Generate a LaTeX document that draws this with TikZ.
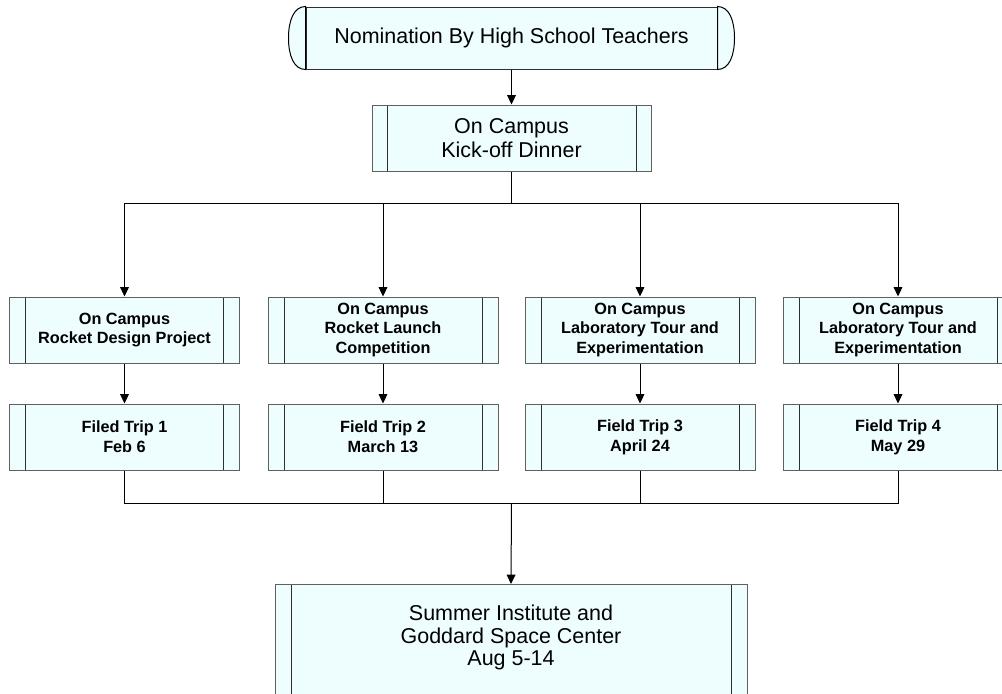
\documentclass[tikz,border=0pt]{standalone}
\usepackage{fontspec}
\setmainfont{Liberation Sans}
\usetikzlibrary{arrows.meta}
\definecolor{boxfill}{HTML}{EEFEFF}
\definecolor{bordergray}{HTML}{606060}
\definecolor{innergray}{HTML}{303030}
\tikzset{
  procbox/.style={rectangle, draw=bordergray, fill=boxfill, line width=0.75pt, inner sep=0pt, align=center,
    path picture={
      \draw[innergray, line width=0.75pt] ([xshift=#1]path picture bounding box.north west) -- ([xshift=#1]path picture bounding box.south west);
      \draw[innergray, line width=0.75pt] ([xshift=-#1]path picture bounding box.north east) -- ([xshift=-#1]path picture bounding box.south east);
    }},
  procbox/.default=12pt,
  bigfont/.style={font=\fontsize{16.1}{18}\selectfont},
  smallbold/.style={font=\fontsize{12.2}{14.8}\selectfont\bfseries},
  rowbox/.style={procbox, smallbold, minimum width=172.5pt, minimum height=49.5pt},
  conn/.style={draw=black, line width=0.75pt},
  arr/.style={conn, -{Triangle[width=6.5pt,length=7pt]}},
}
\begin{document}
\begin{tikzpicture}[x=0.75pt, y=-0.75pt]
\clip (0,0) rectangle (1002,693);
\fill[white] (0,0) rectangle (1002,693);

% top terminal
\node[rectangle, draw=innergray, fill=boxfill, line width=0.75pt, bigfont, minimum width=308.25pt, minimum height=46.5pt, inner sep=0pt]
  (nom) at (511.5,38) {Nomination By High School Teachers};
\filldraw[fill=boxfill, draw=black, line width=0.75pt]
  (nom.north east) .. controls +(12,0) and +(0,-17) .. ([xshift=12.75pt]nom.east)
  .. controls +(0,17) and +(12,0) .. (nom.south east) -- cycle;
\filldraw[fill=boxfill, draw=black, line width=0.75pt]
  (nom.north west) .. controls +(-12,0) and +(0,-17) .. ([xshift=-12.75pt]nom.west)
  .. controls +(0,17) and +(-12,0) .. (nom.south west) -- cycle;

% kick-off
\node[procbox=11.25pt, font=\fontsize{16.1}{18}\selectfont, minimum width=209.25pt, minimum height=49.5pt]
  (kick) at (511.5,138) {On Campus\\Kick-off Dinner};

% row 1
\node[rowbox] (c1) at (124.5,330) {On Campus\\Rocket Design Project};
\node[rowbox] (c2) at (383,330) {On Campus\\Rocket Launch\\Competition};
\node[rowbox] (c3) at (640,330) {On Campus\\Laboratory Tour and\\Experimentation};
\node[rowbox] (c4) at (898,330) {On Campus\\Laboratory Tour and\\Experimentation};

% row 2
\node[rowbox] (t1) at (124.5,437) {Filed Trip 1\\Feb 6};
\node[rowbox] (t2) at (383,437) {Field Trip 2\\March 13};
\node[rowbox] (t3) at (640,437) {Field Trip 3\\April 24};
\node[rowbox] (t4) at (898,437) {Field Trip 4\\May 29};

% bottom box
\node[procbox, font=\fontsize{16.1}{16.8}\selectfont, minimum width=354pt, anchor=north, inner ysep=15.5pt]
  (sum) at (511,584) {Summer Institute and\\Goddard Space Center\\Aug 5-14\rule[-60pt]{0pt}{0pt}};

% connectors
\coordinate (split) at (511.5,203);
\coordinate (merge) at (511.5,503);
\draw[arr] (nom.south) -- (kick.north);
\draw[conn] (kick.south) -- (split);
\draw[arr] (split) -| (c1.north);
\draw[arr] (split) -| (c2.north);
\draw[arr] (split) -| (c3.north);
\draw[arr] (split) -| (c4.north);
\draw[arr] (c1) -- (t1);
\draw[arr] (c2) -- (t2);
\draw[arr] (c3) -- (t3);
\draw[arr] (c4) -- (t4);
\draw[conn] (t1.south) |- (merge);
\draw[conn] (t2.south) |- (merge);
\draw[conn] (t3.south) |- (merge);
\draw[conn] (t4.south) |- (merge);
\draw[arr] (merge) -- (sum.north);
\end{tikzpicture}
\end{document}
